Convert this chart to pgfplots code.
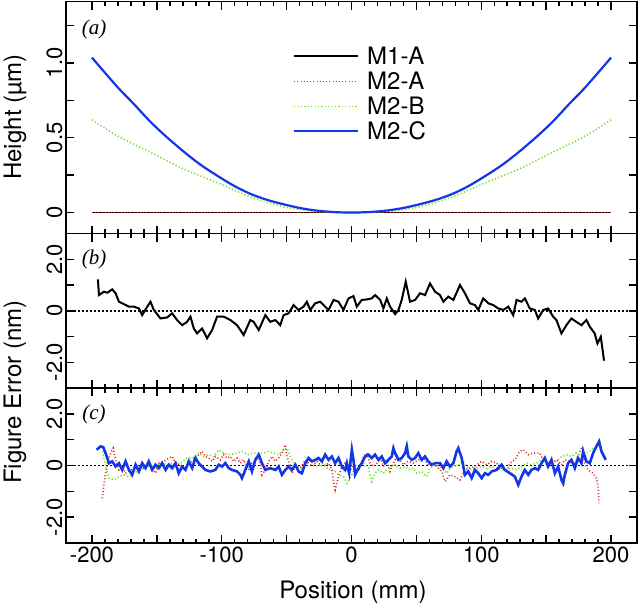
\documentclass[border=0pt]{standalone}
\usepackage{pgfplots}
\pgfplotsset{compat=1.18}
\usepackage{fontspec}
\setmainfont{TeX Gyre Heros}
\newfontfamily\serif{Liberation Serif}
\definecolor{mred}{RGB}{235,35,30}
\definecolor{mgreen}{RGB}{115,225,45}
\definecolor{mblue}{RGB}{20,55,230}

\pgfplotsset{
  panel/.style={
    scale only axis, width=571pt,
    xmin=-220, xmax=220,
    axis line style={line width=1.6pt},
    tick style={black, line width=1.5pt},
    major tick length=8pt, minor tick length=4.5pt,
    tick align=inside,
    xtick={-200,-150,...,200}, minor x tick num=4,
    ticklabel style={font=\fontsize{22}{22}\selectfont},
    yticklabel style={rotate=90, anchor=south},
    anchor=north west,
  },
  errpanel/.style={
    panel, ymin=-3, ymax=3,
    ytick={-2,-1,0,1,2}, yticklabels={-2.0,,0,,2.0},
  },
  nolabels/.style={xticklabels={,,,,,,,,}},
}

\begin{document}
\begin{tikzpicture}[x=1pt,y=1pt]
\path[use as bounding box] (0,0) rectangle (640,-606);

% (a) surface heights
\begin{axis}[panel, nolabels, at={(66pt,-1.5pt)}, height=232pt,
  ymin=-0.14, ymax=1.41,
  ytick={0,0.25,0.5,0.75,1,1.25}, yticklabels={0,,0.5,,1.0,},
  legend cell align=left,
  legend style={at={(0.392,0.827)}, anchor=north west, draw=none, fill=none,
    font=\fontsize{24}{24}\selectfont, row sep=0pt,
    nodes={inner xsep=8pt, inner ysep=4pt, text height=17pt, text depth=0pt}},
  legend image code/.code={\draw[#1] (0pt,0pt) -- (64pt,0pt);},
]
\addplot[black, line width=1.8pt] coordinates {(-200,0) (200,0)};
\addplot[mred, line width=1.6pt, dash pattern=on 1pt off 2.2pt] coordinates {(-200,0) (200,0)};
\addplot[mgreen, line width=1.6pt, dash pattern=on 1.2pt off 2.2pt, smooth] coordinates {
 (-200,0.620) (-180.5,0.513) (-154.8,0.402) (-129.2,0.291) (-103.6,0.200)
 (-77.9,0.105) (-52.3,0.038) (-26.9,0.008) (0,0)
 (26.9,0.008) (52.3,0.038) (77.9,0.105) (103.6,0.200) (129.2,0.291)
 (154.8,0.402) (180.5,0.513) (200,0.620)};
\addplot[mblue, line width=2.2pt, smooth] coordinates {
 (-200,1.035) (-180.5,0.840) (-167.7,0.725) (-154.8,0.605) (-142.1,0.502)
 (-129,0.405) (-116.4,0.320) (-103.6,0.247) (-90.8,0.180) (-77.9,0.125)
 (-65.1,0.085) (-52.3,0.055) (-39.5,0.030) (-26.9,0.013) (-13,0.003) (0,0)
 (13,0.003) (26.9,0.013) (39.5,0.030) (52.3,0.055) (65.1,0.085) (77.9,0.125)
 (90.8,0.180) (103.6,0.247) (116.4,0.320) (129,0.405) (142.1,0.502)
 (154.8,0.605) (167.7,0.725) (180.5,0.840) (200,1.035)};
\legend{M1-A, M2-A, M2-B, M2-C}
\end{axis}

% (b) figure error, M1-A
\begin{axis}[errpanel, nolabels, at={(66pt,-233.5pt)}, height=154.5pt]
\addplot[black, line width=1.5pt, dash pattern=on 1.5pt off 2.5pt] coordinates {(-220,0) (220,0)};
\addplot[black, line width=2pt] coordinates {
 (-195.4,1.22) (-194.6,0.61) (-190.8,0.74) (-188.2,0.70) (-184.4,0.83) (-181.8,0.68)
 (-179.2,0.35) (-175.4,0.26) (-171.5,0.16) (-167.7,0.16) (-163.8,0.09) (-161.3,-0.17)
 (-157.4,0.16) (-154.9,0.35) (-152.3,0.03) (-147.2,-0.30) (-142.1,-0.26) (-138.2,-0.10)
 (-134.4,-0.36) (-130.5,-0.56) (-126.7,-0.43) (-124.1,-0.23) (-121.5,-0.69) (-119,-0.88)
 (-115.1,-0.69) (-111.3,-1.07) (-107.4,-0.75) (-103.6,-0.23) (-98.5,-0.23) (-93.3,-0.36)
 (-88.2,-0.56) (-83.1,-0.94) (-78,-0.36) (-75.4,-0.43) (-71.5,-0.75) (-66.4,-0.17)
 (-62.6,-0.43) (-58.7,-0.36) (-54.9,-0.56) (-52.3,-0.17) (-48.5,-0.10) (-44.6,0.22)
 (-40.8,0.03) (-36.9,0.16) (-34.4,0.35) (-31.8,0.03) (-28,0.29) (-24.1,0.35)
 (-21.5,0.22) (-17.7,0.03) (-13.8,0.42) (-10,0.35) (-6.2,0.03) (-2.3,0.48)
 (1.5,0.57) (4.1,0.16) (7.9,0.42) (11.8,0.44) (15.6,0.48) (18.2,0.61)
 (22.1,0.42) (24.6,0.09) (27.2,0.48) (29.7,0.16) (33.6,-0.13) (36.2,0.03)
 (38.7,0.42) (41.8,1.13) (45.1,0.35) (49,0.42) (52.8,0.68) (56.7,0.61)
 (60.5,1.06) (64.4,0.74) (68.2,0.61) (70.8,0.35) (74.6,0.55) (78.5,0.42)
 (83.6,1.00) (87.4,0.68) (91.3,0.29) (95.1,0.22) (97.7,0.03) (101.5,0.48)
 (105.4,0.29) (109.2,0.22) (113.1,0.09) (116.9,0.03) (120.8,0.16) (124.6,-0.17)
 (127.2,0.42) (131,0.35) (133.6,0.48) (137.4,0.09) (141.3,0.03) (143.8,-0.30)
 (147.7,0.03) (151.5,0.09) (155.4,-0.23) (157.9,-0.36) (161.8,-0.88) (165.6,-0.56)
 (169.5,-0.30) (173.3,-0.43) (177.2,-0.56) (181,-0.36) (183.6,-0.62) (187.4,-0.88)
 (189.5,-1.27) (192.1,-1.01) (194.6,-1.94)};
\end{axis}

% (c) figure error, M2-A/B/C
\begin{axis}[errpanel, at={(66pt,-388pt)}, height=155pt,
  xticklabels={-200,,-100,,0,,100,,200}]
\addplot[black, line width=1.5pt, dash pattern=on 1.5pt off 2.5pt] coordinates {(-220,0) (220,0)};
\addplot[mred, line width=1.6pt, dash pattern=on 1pt off 2.2pt] coordinates {
 (-192.1,-1.27) (-190.3,-0.56) (-188.2,0.09) (-185.6,0.48) (-183.6,0.67) (-181.8,0.22)
 (-179.2,-0.17) (-176.7,-0.04) (-174.1,-0.30) (-170.3,-0.17) (-165.1,-0.04) (-160,-0.10)
 (-154.9,0.03) (-151,-0.30) (-148.5,0.09) (-144.6,0.16) (-140.8,0.29) (-138.2,0.35)
 (-135.6,0.09) (-131.8,0.03) (-129.2,-0.17) (-125.4,0.09) (-121.5,0.22) (-117.7,0.42)
 (-115.1,0.55) (-112.6,0.35) (-110,0.29) (-107.4,0.16) (-104.9,0.35) (-101,0.22)
 (-98.5,0.42) (-95.9,0.29) (-93.3,0.35) (-90.8,0.16) (-88.2,0.29) (-85.6,0.09)
 (-83.1,0.22) (-79.2,-0.17) (-76.7,0.09) (-74.1,0.16) (-71.5,0.35) (-69,-0.36)
 (-66.4,-0.17) (-63.8,0.16) (-61.3,0.35) (-58.7,0.16) (-56.2,0.29) (-53.6,0.48)
 (-51,0.80) (-49.7,0.35) (-47.2,-0.04) (-45.9,-0.30) (-43.3,-0.04) (-39.5,-0.10)
 (-35.6,0.22) (-33.1,0.09) (-30.5,-0.04) (-26.7,0.16) (-24.1,0.03) (-21.5,-0.04)
 (-17.7,0.09) (-15.1,-0.17) (-13.8,-0.62) (-12.6,-0.94) (-10,-0.43) (-7.4,-0.04)
 (-4.9,0.09) (-1,-0.17) (1.5,-0.04) (5.4,-0.23) (9.2,0.35) (11.8,0.48)
 (14.4,0.09) (16.9,-0.04) (19.5,0.09) (22.1,0.29) (24.6,-0.04) (27.2,0.22)
 (29.7,-0.23) (32.3,0.09) (34.9,0.35) (37.4,0.22) (40,0.03) (43.8,0.16)
 (47.7,0.09) (51.5,0.22) (55.4,0.29) (59.2,0.03) (63.1,0.09) (66.9,-0.10)
 (69.5,-0.23) (72.1,-0.62) (75.9,-0.36) (79.7,-0.43) (83.6,-0.56) (87.4,-0.17)
 (91.3,-0.10) (95.1,-0.04) (100.3,0.16) (104.1,0.03) (108,0.16) (111.8,0.09)
 (115.6,-0.10) (119.5,-0.23) (122.1,0.09) (125.9,0.22) (129.7,0.55) (132.3,0.61)
 (136.2,0.42) (140,0.48) (145.1,0.48) (147.7,0.22) (151.5,0.16) (154.1,0.09)
 (158,0.22) (161.8,0.03) (164.4,0.22) (168.2,0.16) (172.1,0.09) (175.4,0.48)
 (178,0.74) (179.7,0.09) (182.3,-0.17) (186.2,-0.30) (188.7,-0.49) (190,-0.81)
 (190.8,-1.46)};
\addplot[mgreen, line width=1.6pt, dash pattern=on 1.2pt off 2.2pt] coordinates {
 (-192,0.55) (-189.5,0.0) (-186.9,-0.49) (-183.1,-0.56) (-179.2,-0.43) (-175.4,-0.36)
 (-171.5,-0.43) (-167.7,-0.30) (-162.6,-0.17) (-157.4,-0.04) (-152.3,-0.04) (-147.2,0.09)
 (-142.1,0.03) (-136.9,0.09) (-131.8,0.09) (-126.7,0.29) (-121.5,0.29) (-117.7,0.48)
 (-113.8,0.35) (-110,0.42) (-106.2,0.35) (-102.3,0.61) (-98.5,0.48) (-93.3,0.42)
 (-88.2,0.48) (-84.4,0.55) (-80.5,0.42) (-75.4,0.48) (-71.5,0.48) (-67.7,0.48)
 (-63.8,0.55) (-60,0.48) (-56.2,0.42) (-52.3,0.61) (-49.7,0.67) (-47.2,0.35)
 (-44.6,0.09) (-42.1,-0.04) (-38.2,-0.17) (-35.6,0.09) (-31.8,0.22) (-27.9,0.03)
 (-25.4,-0.04) (-21.5,0.09) (-17.7,-0.17) (-13.8,-0.17) (-10,-0.36) (-6.2,-0.43)
 (-3.6,-0.69) (-1,-0.49) (1.5,-0.23) (5.4,-0.10) (9.2,0.09) (13.1,-0.10)
 (15.6,-0.62) (18.2,-0.30) (20.8,-0.17) (24.6,-0.30) (28.5,-0.10) (31,-0.04)
 (33.6,0.03) (37.4,-0.10) (41.3,-0.04) (45.1,-0.17) (47.7,-0.10) (50.3,-0.30)
 (54.1,-0.23) (57.9,-0.43) (60.5,-0.10) (64.4,0.03) (66.9,-0.04) (70.8,-0.17)
 (73.3,-0.30) (75.9,-0.10) (78.5,-0.04) (82.3,0.03) (86.2,0.16) (88.7,-0.04)
 (92.6,-0.17) (96.4,-0.10) (100.3,-0.04) (104.1,-0.10) (108,-0.04) (111.8,-0.10)
 (115.6,-0.17) (119.5,-0.17) (123.3,-0.10) (127.2,-0.17) (131,-0.04) (134.9,0.09)
 (138.7,0.03) (142.6,0.09) (146.4,0.22) (150.3,0.16) (154.1,0.09) (158,0.16)
 (161.8,0.35) (165.6,0.42) (169.5,0.35) (173.3,0.48) (177.2,0.35) (181,0.48)
 (184.9,0.61) (188.7,0.74) (191.3,1.06)};
\addplot[mblue, line width=2.6pt] coordinates {
 (-196.4,0.61) (-193.3,0.74) (-191.3,0.71) (-189.5,0.48) (-186.9,0.09) (-184.4,0.16)
 (-181.8,-0.04) (-179.2,0.09) (-176.7,-0.17) (-174.1,0.16) (-171.5,-0.17) (-169,-0.36)
 (-166.4,0.03) (-163.8,-0.23) (-161.3,0.09) (-158.7,-0.10) (-156.2,0.16) (-153.6,-0.17)
 (-151,0.03) (-148.5,-0.10) (-145.9,0.09) (-143.3,-0.17) (-140.8,0.03) (-138.2,-0.10)
 (-135.6,0.09) (-133.1,-0.30) (-130.5,-0.04) (-127.9,-0.17) (-125.4,0.16) (-122.8,-0.10)
 (-120.3,0.29) (-117.7,0.09) (-115.1,-0.04) (-112.6,-0.17) (-108.7,-0.23) (-104.9,-0.17)
 (-102.3,0.03) (-99.7,-0.04) (-97.2,0.09) (-94.6,-0.10) (-92.1,-0.17) (-88.2,-0.23)
 (-85.6,-0.36) (-84.4,-0.49) (-81.8,-0.17) (-79.2,0.16) (-76.7,-0.23) (-74.1,0.22)
 (-71.5,0.42) (-69,0.09) (-66.4,-0.17) (-62.6,-0.10) (-58.7,-0.17) (-56.2,-0.04)
 (-53.6,-0.36) (-51,-0.17) (-48.5,-0.04) (-45.9,-0.17) (-43.3,0.03) (-40.8,-0.23)
 (-38.2,-0.30) (-35.6,0.09) (-33.1,0.29) (-30.5,0.16) (-27.9,0.22) (-25.4,0.29)
 (-22.8,0.16) (-20.3,0.42) (-17.7,0.22) (-15.1,0.35) (-12.6,0.09) (-10,0.29)
 (-7.4,-0.04) (-4.9,-0.17) (-3.6,0.09) (-1.8,-0.30) (0.3,0.61) (1.5,0.22)
 (2.8,-0.36) (5.4,-0.10) (7.9,0.09) (10.5,0.35) (13.1,0.42) (15.6,0.29)
 (18.2,0.42) (20.8,0.22) (23.3,0.35) (25.9,0.09) (28.5,0.22) (31,0.35)
 (32.3,0.67) (33.6,0.48) (36.2,0.22) (38.7,0.29) (41.3,0.48) (42.6,0.74)
 (43.8,0.35) (46.4,0.22) (49,0.29) (51.5,0.48) (54.1,0.22) (56.7,0.35)
 (59.2,0.16) (61.8,0.03) (64.4,0.09) (68.2,0.09) (70.8,-0.10) (73.3,0.16)
 (75.9,-0.04) (78.5,0.09) (81,0.55) (82.3,0.67) (84.9,0.29) (87.4,-0.36)
 (90,-0.23) (92.6,-0.49) (95.1,-0.17) (97.7,-0.30) (100.3,-0.49) (102.8,-0.30)
 (105.4,-0.36) (108,-0.23) (111.8,-0.17) (115.6,0.03) (118.2,-0.17) (122.1,-0.30)
 (125.9,-0.43) (128.5,-0.75) (131,-0.43) (133.6,-0.17) (136.2,-0.36) (138.7,-0.17)
 (141.3,-0.10) (143.8,-0.17) (146.4,0.09) (149,0.29) (151.5,-0.04) (154.1,0.22)
 (156.7,-0.30) (159.2,-0.04) (161.8,-0.56) (163.1,-0.69) (164.4,-0.36) (166.9,0.09)
 (169.5,0.22) (172.1,-0.10) (174.6,0.29) (177.2,0.09) (178.5,0.55) (181,0.16)
 (183.6,0.09) (186.2,0.48) (188.7,0.74) (190.8,0.93) (192.6,0.55) (195.9,0.22)};
\end{axis}

% labels
\node[rotate=90, anchor=base, font=\fontsize{24}{24}\selectfont] at (21,-117) {Height (µm)};
\node[rotate=90, anchor=base, font=\fontsize{24}{24}\selectfont] at (21,-392) {Figure Error (nm)};
\node[anchor=base, font=\fontsize{24}{24}\selectfont] at (353,-598) {Position (mm)};
\node[font=\serif\itshape\fontsize{21}{21}\selectfont] at (94,-29) {(a)};
\node[font=\serif\itshape\fontsize{21}{21}\selectfont] at (94,-259.5) {(b)};
\node[font=\serif\itshape\fontsize{21}{21}\selectfont] at (94,-414.5) {(c)};
\end{tikzpicture}
\end{document}
